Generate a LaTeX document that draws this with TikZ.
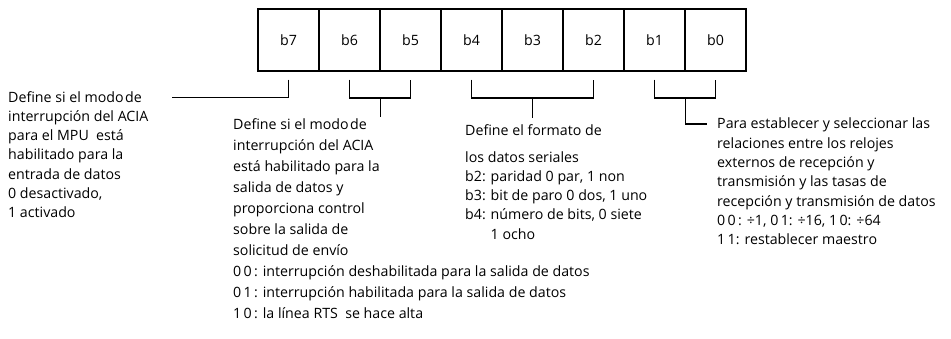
\documentclass[tikz,border=0pt]{standalone}
\usepackage{fontspec}
\setmainfont{Open Sans}
\usetikzlibrary{positioning,calc}
\tikzset{
  bitbox/.style={draw, line width=1.2pt, minimum width=61pt, minimum height=62pt, inner sep=0pt, font=\fontsize{14.2}{16}\selectfont},
  bracket/.style={line width=1.7pt},
  desc/.style={anchor=north west, align=left, inner sep=0pt, font=\fontsize{14.2}{19.3}\selectfont},
}
\begin{document}
\begin{tikzpicture}[x=1pt,y=-1pt]
\useasboundingbox (0,0) rectangle (951,338);
% the register bits
\foreach \b [count=\i from 0] in {7,...,0} {
    \node[bitbox] (b\b) at ({288.5+61*\i},40) {b\b};
}
% descriptions
\node[desc] (intDesc) at (8,91) {Define si el modo\hspace{1.5pt}de\\interrupción del ACIA\\para el MPU\ \ está\\habilitado para la\\entrada de datos\\0 desactivado,\\1 activado};
\node[desc, font=\fontsize{14.2}{21}\selectfont] (outDesc) at (233,118) {Define si el modo\hspace{1.5pt}de\\interrupción del ACIA\\está habilitado para la\\salida de datos y\\proporciona control\\sobre la salida de\\solicitud de envío\\0\,0\,: interrupción deshabilitada para la salida de datos\\0\,1\,: interrupción habilitada para la salida de datos\\1\,0\,: la línea RTS\ \ se hace alta};
\node[desc] (fmtDesc) at (465,124) {Define el formato de\\[7.7pt]los datos seriales\\b2: paridad 0 par, 1 non\\b3: bit de paro 0 dos, 1 uno\\b4: número de bits, 0 siete\\\phantom{b4: }1 ocho};
\node[desc] (clkDesc) at (717,118) {Para establecer y seleccionar las\\relaciones entre los relojes\\externos de recepción y\\transmisión y las tasas de\\recepción y transmisión de datos\\0\,0\,: ÷1, 0\,1: ÷16, 1\,0: ÷64\\1\,1: restablecer maestro};
\coordinate (intEnd) at (172,97.5);
\coordinate (clkEnd) at (707,124);
% brackets
\draw[bracket] ($(b7.south)+(0,8)$) |- (intEnd);
\draw[bracket] ($(b6.south)+(0,8)$) -- ++(0,18.5) -| ($(b5.south)+(0,8)$);
\draw[bracket] ($(b6.south east)+(0,26.5)$) -- ++(0,19);
\draw[bracket] ($(b4.south)+(0,8)$) -- ++(0,18.5) -| ($(b2.south)+(0,8)$);
\draw[bracket] ($(b3.south)+(0,26.5)$) -- ++(0,20);
\draw[bracket] ($(b1.south)+(0,8)$) -- ++(0,18.5) -| ($(b0.south)+(0,8)$);
\draw[bracket] ($(b1.south east)+(0,26.5)$) |- (clkEnd);
\end{tikzpicture}
\end{document}
